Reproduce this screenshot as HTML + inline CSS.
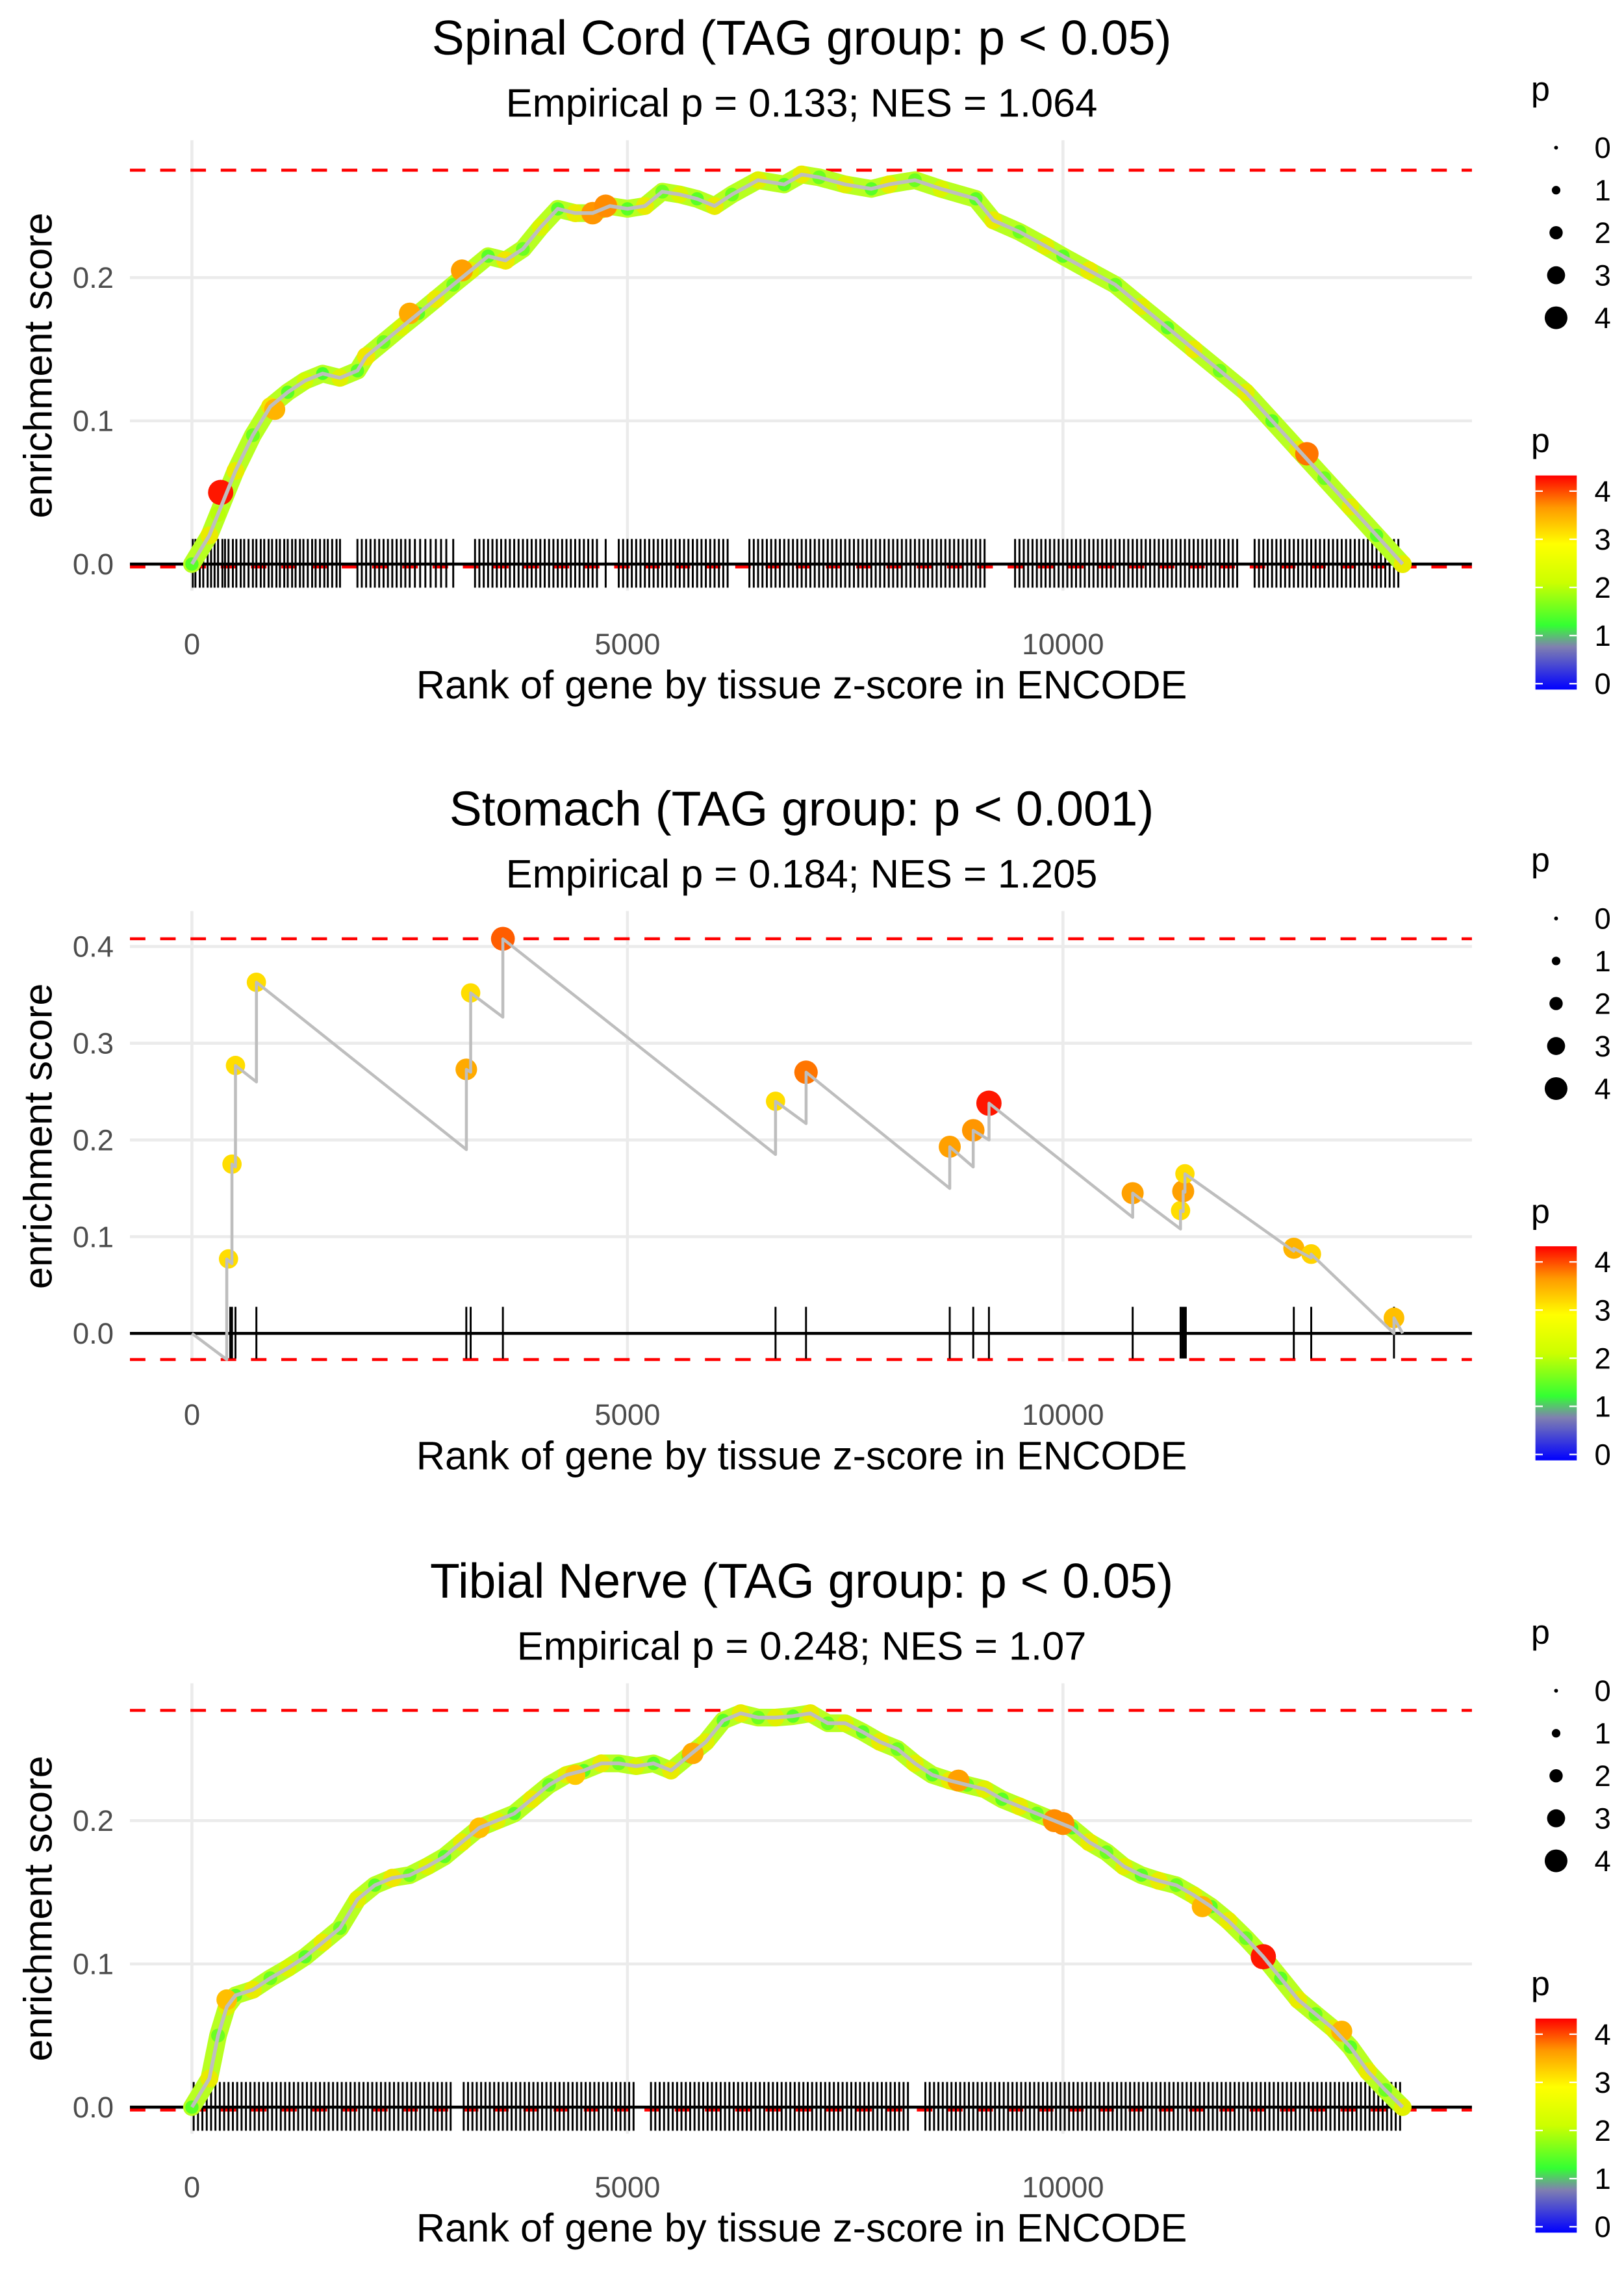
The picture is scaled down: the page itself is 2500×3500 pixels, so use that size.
<!DOCTYPE html>
<html><head><meta charset="utf-8"><style>
html,body{margin:0;padding:0;background:#fff;}
svg{display:block;font-family:"Liberation Sans",Arial,sans-serif;}
</style></head><body>
<svg id="chart" width="2500" height="3500" viewBox="0 0 1100 1540" preserveAspectRatio="none" xmlns="http://www.w3.org/2000/svg">
<defs>
<linearGradient id="pgrad" x1="0" y1="1" x2="0" y2="0">
<stop offset="0" stop-color="#0000ff"/><stop offset="0.2" stop-color="#8080b0"/><stop offset="0.3" stop-color="#33ff33"/><stop offset="0.5" stop-color="#ccff00"/><stop offset="0.68" stop-color="#ffff00"/><stop offset="0.85" stop-color="#ff9900"/><stop offset="1" stop-color="#ff0000"/>
</linearGradient>
</defs>
</svg>
<script>
// ---------- data ----------
const xTicks = [0, 5000, 10000];
const xTickLabels = ["0", "5000", "10000"];
const legendSizes = [0, 1, 2, 3, 4];

const p1Titles = ["Spinal Cord (TAG group: p < 0.05)", "Empirical p = 0.133; NES = 1.064"];
const p1Ranks = [0,200,300,500,700,900,1100,1300,1500,1700,1900,2000,2200,2400,2600,2800,3000,3200,3400,3600,3800,4000,4200,4400,4600,4800,5000,5200,5400,5600,5800,6000,6200,6500,6800,7000,7200,7500,7800,8000,8300,8600,9000,9200,9500,9800,10000,10300,10600,10900,11200,11500,11800,12100,12400,12700,13000,13300,13600,13900];
const p1ES = [0,0.02,0.035,0.065,0.09,0.11,0.12,0.128,0.133,0.13,0.135,0.145,0.155,0.165,0.175,0.185,0.195,0.205,0.215,0.212,0.22,0.235,0.248,0.245,0.245,0.25,0.248,0.25,0.26,0.258,0.255,0.25,0.258,0.268,0.265,0.272,0.27,0.265,0.262,0.265,0.268,0.262,0.255,0.24,0.232,0.222,0.215,0.205,0.195,0.18,0.165,0.15,0.135,0.12,0.1,0.08,0.06,0.04,0.02,0];
const p1P = [1.5,2.5,2,2.5,1.6,2.6,1.5,2.2,1.4,2.4,1.5,2.6,1.6,2.3,1.5,2.5,1.6,2.4,1.5,2.6,1.6,2.3,1.5,2.5,1.6,2.4,1.5,2.5,1.6,2.3,1.5,2.5,1.6,2.4,1.5,2.5,1.6,2.4,1.5,2.5,1.6,2.3,1.5,2.5,1.6,2.4,1.5,2.5,1.6,2.4,1.5,2.5,1.6,2.4,1.5,2.5,1.6,2.4,1.5,2.5];
const p1HlRank = [330,950,2500,3100,4600,4750,12800];
const p1HlES = [0.05,0.108,0.175,0.205,0.245,0.25,0.077];
const p1HlP = [4.1,3.2,3.3,3.4,3.5,3.6,3.7];
const p1Rug = [10,40,90,130,180,220,260,300,350,380,420,470,510,560,600,650,700,740,790,830,880,920,970,1010,1060,1100,1150,1190,1240,1280,1330,1380,1420,1470,1520,1560,1610,1660,1700,1900,1950,2000,2050,2100,2150,2200,2250,2300,2350,2400,2450,2500,2560,2620,2680,2740,2800,2860,2920,3000,3250,3300,3350,3400,3450,3500,3550,3600,3650,3700,3750,3800,3850,3900,3950,4000,4050,4100,4150,4200,4250,4300,4350,4400,4450,4500,4550,4600,4650,4750,4900,4950,5000,5050,5100,5150,5200,5250,5300,5350,5400,5450,5500,5550,5600,5650,5700,5750,5800,5850,5900,5950,6000,6050,6100,6150,6400,6450,6500,6550,6600,6650,6700,6750,6800,6850,6900,6950,7000,7050,7100,7150,7200,7250,7300,7350,7400,7450,7500,7550,7600,7650,7700,7750,7800,7850,7900,7950,8000,8050,8100,8150,8200,8250,8300,8350,8400,8450,8500,8550,8600,8650,8700,8750,8800,8850,8900,8950,9000,9050,9100,9450,9500,9550,9600,9650,9700,9750,9800,9850,9900,9950,10000,10050,10100,10150,10200,10250,10300,10350,10400,10450,10500,10550,10600,10650,10700,10750,10800,10850,10900,10950,11000,11050,11100,11150,11200,11250,11300,11350,11400,11450,11500,11550,11600,11650,11700,11750,11800,11850,11900,11950,12000,12200,12250,12300,12350,12400,12450,12500,12550,12600,12650,12700,12750,12800,12850,12900,12950,13000,13050,13100,13150,13200,13250,13300,13350,13400,13450,13500,13550,13600,13650,13700,13750,13800,13850];
const p1YTicks = [0, 0.1, 0.2];
const p1YTickLabels = ["0.0", "0.1", "0.2"];
const p1Bounds = [0.275, -0.002];

const p2Titles = ["Stomach (TAG group: p < 0.001)", "Empirical p = 0.184; NES = 1.205"];
const p2PathRank = [0,400,400,460,460,500,500,740,740,3150,3150,3200,3200,3570,3570,6700,6700,7050,7050,8700,8700,8970,8970,9150,9150,10800,10800,11350,11350,11380,11380,11400,11400,12650,12650,12850,12850,13800,13800,13900];
const p2PathES = [0,-0.027,0.077,0.072,0.175,0.172,0.277,0.26,0.363,0.19,0.273,0.27,0.352,0.327,0.408,0.185,0.24,0.217,0.27,0.15,0.193,0.172,0.21,0.2,0.238,0.12,0.145,0.108,0.127,0.126,0.147,0.146,0.165,0.085,0.088,0.078,0.082,0.0,0.016,0.0];
const p2PtRank = [420,460,500,740,3150,3200,3570,6700,7050,8700,8970,9150,10800,11350,11380,11400,12650,12850,13800];
const p2PtES = [0.077,0.175,0.277,0.363,0.273,0.352,0.408,0.24,0.27,0.193,0.21,0.238,0.145,0.127,0.147,0.165,0.088,0.082,0.016];
const p2PtP = [2.8,2.8,2.8,2.8,3.3,2.8,3.8,2.8,3.7,3.4,3.5,4.1,3.4,2.8,3.4,2.8,3.2,2.9,3.1];
const p2Rug = [400,440,460,500,740,3150,3200,3570,6700,7050,8700,8970,9150,10800,11350,11370,11390,11410,12650,12850,13800];
const p2YTicks = [0, 0.1, 0.2, 0.3, 0.4];
const p2YTickLabels = ["0.0", "0.1", "0.2", "0.3", "0.4"];
const p2Bounds = [0.408, -0.027];

const p3Titles = ["Tibial Nerve (TAG group: p < 0.05)", "Empirical p = 0.248; NES = 1.07"];
const p3Ranks = [0,200,300,400,500,700,900,1100,1300,1500,1700,1900,2100,2300,2500,2700,2900,3100,3300,3500,3700,3900,4100,4300,4500,4700,4900,5100,5300,5500,5700,5900,6100,6300,6500,6700,6900,7100,7300,7500,7700,7900,8100,8300,8500,8700,8900,9100,9300,9500,9700,9900,10100,10300,10500,10700,10900,11100,11300,11500,11700,11900,12100,12300,12500,12700,12900,13100,13300,13500,13700,13900];
const p3ES = [0,0.02,0.05,0.07,0.078,0.082,0.09,0.097,0.105,0.115,0.125,0.145,0.155,0.16,0.162,0.168,0.175,0.185,0.195,0.2,0.205,0.215,0.225,0.232,0.235,0.24,0.24,0.238,0.24,0.235,0.245,0.255,0.27,0.275,0.272,0.272,0.273,0.275,0.268,0.268,0.262,0.255,0.25,0.24,0.232,0.228,0.225,0.222,0.215,0.21,0.205,0.2,0.195,0.185,0.178,0.168,0.162,0.158,0.155,0.148,0.14,0.13,0.118,0.105,0.09,0.075,0.065,0.055,0.042,0.025,0.012,0];
const p3P = [1.5,2.5,1.6,2.4,1.5,2.5,1.6,2.3,1.5,2.5,1.6,2.4,1.5,2.6,1.6,2.3,1.5,2.5,1.6,2.4,1.5,2.5,1.6,2.4,1.5,2.5,1.6,2.3,1.5,2.5,1.6,2.4,1.5,2.5,1.6,2.4,1.5,2.5,1.6,2.3,1.5,2.5,1.6,2.4,1.5,2.5,1.6,2.4,1.5,2.5,1.6,2.3,1.5,2.5,1.6,2.4,1.5,2.5,1.6,2.4,1.5,2.5,1.6,2.3,1.5,2.5,1.6,2.4,1.5,2.5,1.6,2.4];
const p3HlRank = [400,3300,4400,5750,8800,9900,10000,11600,12300,13200];
const p3HlES = [0.075,0.195,0.232,0.247,0.228,0.2,0.198,0.14,0.105,0.053];
const p3HlP = [3.1,3.1,3.0,3.3,3.4,3.6,3.6,3.2,4.1,3.2];
const p3Rug = [20,70,120,170,220,270,320,370,420,470,520,570,620,670,720,770,820,870,920,970,1020,1070,1120,1170,1220,1270,1320,1370,1420,1470,1520,1570,1620,1670,1720,1770,1820,1870,1920,1970,2020,2070,2120,2170,2220,2270,2320,2370,2420,2470,2520,2570,2620,2670,2720,2770,2820,2870,2920,2970,3120,3170,3220,3270,3320,3370,3420,3470,3520,3570,3620,3670,3720,3770,3820,3870,3920,3970,4020,4070,4120,4170,4220,4270,4320,4370,4420,4470,4520,4570,4620,4670,4720,4770,4820,4870,4920,4970,5020,5070,5270,5320,5370,5420,5470,5520,5570,5620,5670,5720,5770,5820,5870,5920,5970,6020,6070,6120,6170,6220,6270,6320,6370,6420,6470,6520,6570,6620,6670,6720,6770,6820,6870,6920,6970,7020,7070,7120,7170,7220,7270,7320,7370,7420,7470,7520,7570,7620,7670,7720,7770,7820,7870,7920,7970,8020,8070,8120,8170,8220,8420,8470,8520,8570,8620,8670,8720,8770,8820,8870,8920,8970,9020,9070,9120,9170,9220,9270,9320,9370,9420,9470,9520,9570,9620,9670,9720,9770,9820,9870,9920,9970,10020,10070,10120,10170,10220,10270,10320,10370,10420,10470,10520,10570,10620,10670,10720,10770,10820,10870,10920,10970,11020,11070,11120,11170,11220,11270,11320,11370,11420,11470,11520,11570,11620,11670,11720,11770,11820,11870,11920,11970,12020,12070,12120,12170,12220,12270,12320,12370,12420,12470,12520,12570,12620,12670,12720,12770,12820,12870,12920,12970,13020,13070,13120,13170,13220,13270,13320,13370,13420,13470,13520,13570,13620,13670,13720,13770,13820,13870];
const p3YTicks = [0, 0.1, 0.2];
const p3YTickLabels = ["0.0", "0.1", "0.2"];
const p3Bounds = [0.277, -0.002];

// ---------- helpers ----------
const NS = "http://www.w3.org/2000/svg";
const svg = document.getElementById("chart");
function mk(tag, attrs, parent) {
  const e = document.createElementNS(NS, tag);
  for (const k in attrs) e.setAttribute(k, attrs[k]);
  (parent || svg).appendChild(e);
  return e;
}
function xScale(r) { return 130 + r * 0.059; }
const stops = [[0,[0,0,255]],[0.8,[128,128,176]],[1.3,[51,255,51]],[2.1,[204,255,0]],[2.8,[255,221,0]],[3.6,[255,140,0]],[4.2,[255,0,0]]];
function pColor(p) {
  for (let i = 1; i < stops.length; i++) {
    if (p <= stops[i][0]) {
      const a = stops[i-1], b = stops[i], t = (p - a[0]) / (b[0] - a[0]);
      const c = a[1].map((v, j) => Math.round(v + (b[1][j] - v) * t));
      return "rgb(" + c.join(",") + ")";
    }
  }
  return "rgb(255,0,0)";
}
function pSize(p) { return 2.2 + p * 1.55; }
function legSize(p) { return 1.3 + p * 1.6; }

function drawPanel(id, titles, zeroY, unit, yTicks, yLabels, bounds, top, bottom) {
  const yS = v => zeroY - v * unit;
  const g = mk("g", {});
  
  
  const t1 = mk("text", {x: 543, y: top - 58, "text-anchor": "middle", "font-size": 33, fill: "#000"}, g);
  t1.textContent = titles[0];
  
  
  const t2 = mk("text", {x: 543, y: top - 16, "text-anchor": "middle", "font-size": 27, fill: "#000"}, g);
  t2.textContent = titles[1];
  
  
  yTicks.forEach((v, i) => {
    const l = mk("line", {x1: 88, x2: 997, y1: yS(v), y2: yS(v), stroke: "#ebebeb", "stroke-width": 2}, g);
    
    
    const tl = mk("text", {x: 77, y: yS(v) + 7, "text-anchor": "end", "font-size": 20, fill: "#4d4d4d"}, g);
    tl.textContent = yLabels[i];
    
    
  });
  xTicks.forEach((v, i) => {
    const l = mk("line", {x1: xScale(v), x2: xScale(v), y1: top, y2: bottom, stroke: "#ebebeb", "stroke-width": 2}, g);
    
    
    const tl = mk("text", {x: xScale(v), y: bottom + 43, "text-anchor": "middle", "font-size": 20, fill: "#4d4d4d"}, g);
    tl.textContent = xTickLabels[i];
    
    
  });
  const xt = mk("text", {x: 543, y: bottom + 73, "text-anchor": "middle", "font-size": 27, fill: "#000"}, g);
  xt.textContent = "Rank of gene by tissue z-score in ENCODE";
  
  
  const ycy = (top + bottom) / 2;
  const yt = mk("text", {x: 35, y: ycy, "text-anchor": "middle", "font-size": 27, fill: "#000", transform: "rotate(-90 35 " + ycy + ")"}, g);
  yt.textContent = "enrichment score";
  
  
  bounds.forEach(b => {
    const l = mk("line", {x1: 88, x2: 997, y1: yS(b), y2: yS(b), stroke: "#ff0000", "stroke-width": 2, "stroke-dasharray": "10.5 10"}, g);
    
    
  });
  return {g, yS};
}
function drawRug(id, g, yS, ranks, up, down) {
  ranks.forEach(r => {
    const l = mk("line", {x1: xScale(r), x2: xScale(r), y1: yS(0) - up, y2: yS(0) + down, stroke: "#000", "stroke-width": 1.3}, g);
    
    
  });
  const z = mk("line", {x1: 88, x2: 997, y1: yS(0), y2: yS(0), stroke: "#000", "stroke-width": 2}, g);
  
  
}
function drawBand(id, g, yS, rk, es) {
  const pts = rk.map((r, i) => xScale(r).toFixed(1) + "," + yS(es[i]).toFixed(1)).join(" ");
  const l = mk("polyline", {points: pts, fill: "none", stroke: "#b8ff20", "stroke-width": 12, "stroke-linejoin": "round", "stroke-linecap": "round"}, g);
  
  
}
function drawPoints(id, g, yS, rk, es, ps, name) {
  rk.forEach((r, i) => {
    const c = mk("circle", {cx: xScale(r), cy: yS(es[i]), r: pSize(ps[i]), fill: pColor(ps[i])}, g);
    
    
  });
}
function drawLine(id, g, yS, rk, es, w) {
  const pts = rk.map((r, i) => xScale(r).toFixed(1) + "," + yS(es[i]).toFixed(1)).join(" ");
  const l = mk("polyline", {points: pts, fill: "none", stroke: "#bebebe", "stroke-width": w, "stroke-linejoin": "round"}, g);
  
  
}

// panel 1
let P = drawPanel("spinal-cord", p1Titles, 382, 970, p1YTicks, p1YTickLabels, p1Bounds, 95, 400);
drawRug("spinal-cord", P.g, P.yS, p1Rug, 17, 16);
drawBand("spinal-cord", P.g, P.yS, p1Ranks, p1ES);
drawPoints("spinal-cord", P.g, P.yS, p1Ranks, p1ES, p1P, "gene-point");
drawPoints("spinal-cord", P.g, P.yS, p1HlRank, p1HlES, p1HlP, "highlight-point");
drawLine("spinal-cord", P.g, P.yS, p1Ranks, p1ES, 2.5);

// panel 2
P = drawPanel("stomach", p2Titles, 903, 655, p2YTicks, p2YTickLabels, p2Bounds, 617, 922);
drawRug("stomach", P.g, P.yS, p2Rug, 18, 17);
drawPoints("stomach", P.g, P.yS, p2PtRank, p2PtES, p2PtP, "gene-point");
drawLine("stomach", P.g, P.yS, p2PathRank, p2PathES, 2);

// panel 3
P = drawPanel("tibial-nerve", p3Titles, 1427, 970, p3YTicks, p3YTickLabels, p3Bounds, 1140, 1445);
drawRug("tibial-nerve", P.g, P.yS, p3Rug, 17, 16);
drawBand("tibial-nerve", P.g, P.yS, p3Ranks, p3ES);
drawPoints("tibial-nerve", P.g, P.yS, p3Ranks, p3ES, p3P, "gene-point");
drawPoints("tibial-nerve", P.g, P.yS, p3HlRank, p3HlES, p3HlP, "highlight-point");
drawLine("tibial-nerve", P.g, P.yS, p3Ranks, p3ES, 2.5);

// legends
[0, 522, 1045].forEach((off, k) => {
  const names = ["spinal-cord", "stomach", "tibial-nerve"];
  const id = names[k] + "-legend";
  const lg = mk("g", {});
  
  
  const h1 = mk("text", {x: 1037, y: off + 68, "font-size": 23, fill: "#000"}, lg);
  h1.textContent = "p";
  
  
  legendSizes.forEach((s, i) => {
    const cy = off + 100 + i * 28.8;
    const c = mk("circle", {cx: 1054, cy: cy, r: legSize(s), fill: "#000"}, lg);
    
    
    const t = mk("text", {x: 1080, y: cy + 7, "font-size": 20, fill: "#000"}, lg);
    t.textContent = String(s);
    
    
  });
  const h2 = mk("text", {x: 1037, y: off + 306, "font-size": 23, fill: "#000"}, lg);
  h2.textContent = "p";
  
  
  const bar = mk("rect", {x: 1040, y: off + 322, width: 28, height: 145, fill: "url(#pgrad)"}, lg);
  
  
  legendSizes.forEach((s, i) => {
    const cy = off + 463 - s * 32.6;
    const tk = mk("line", {x1: 1040, x2: 1045, y1: cy, y2: cy, stroke: "#fff", "stroke-width": 1}, lg);
    
    
    const tk2 = mk("line", {x1: 1063, x2: 1068, y1: cy, y2: cy, stroke: "#fff", "stroke-width": 1}, lg);
    
    
    const t = mk("text", {x: 1080, y: cy + 7, "font-size": 20, fill: "#000"}, lg);
    t.textContent = String(s);
    
    
  });
});
</script>
</body></html>
